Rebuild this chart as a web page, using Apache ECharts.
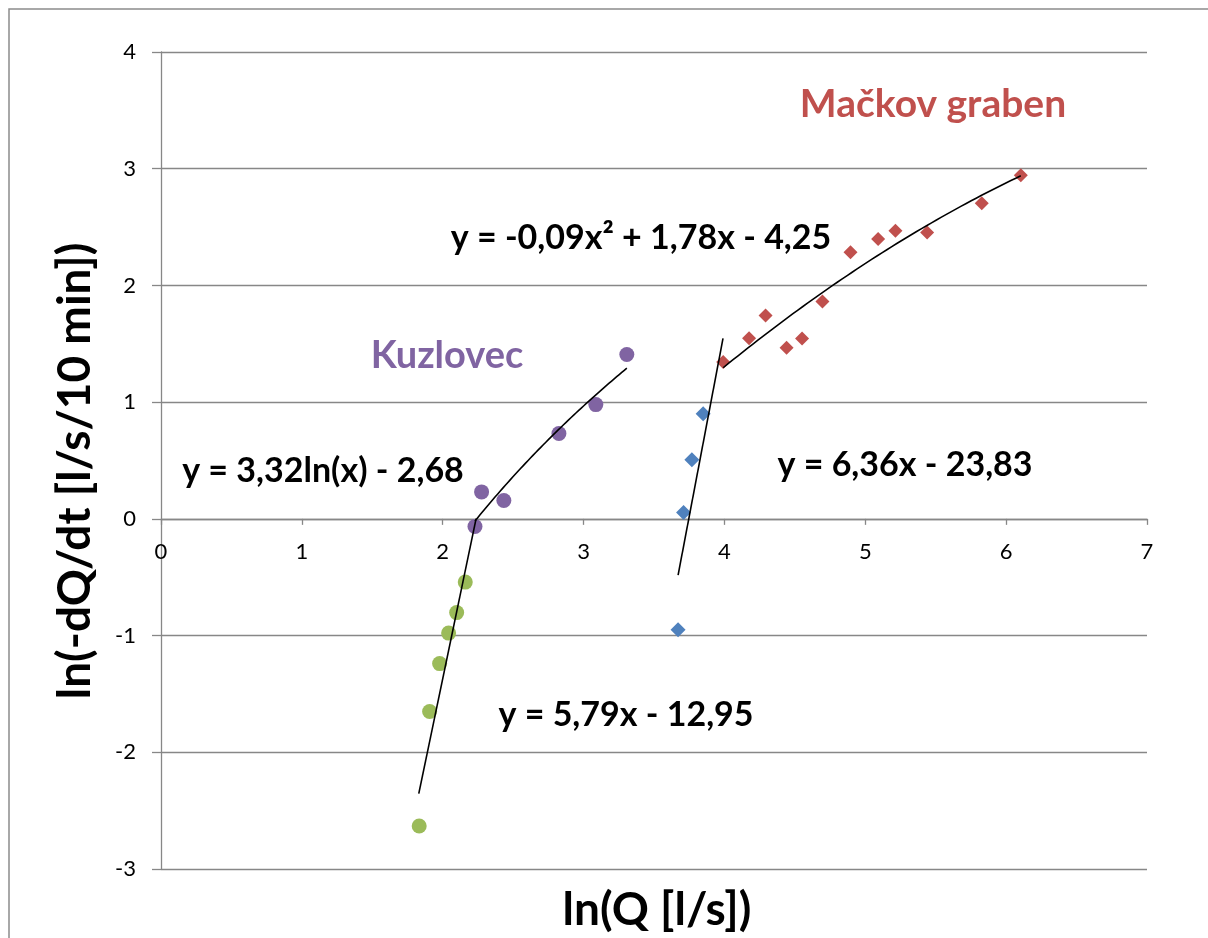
<!DOCTYPE html>
<html>
<head>
<meta charset="utf-8">
<script src="https://cdn.jsdelivr.net/npm/echarts@6/dist/echarts.min.js"></script>
<style>
  html, body { margin: 0; padding: 0; background: #fff; }
  #chart { width: 1208px; height: 938px; }
</style>
</head>
<body>
<div id="chart"></div>
<script>
// ln(Q) against ln(-dQ/dt) for the two recession branches of each spring
const kuzlovecSteep = [[1.833, -2.631], [1.907, -1.651], [1.978, -1.240], [2.042, -0.979], [2.099, -0.803], [2.160, -0.542]];
const kuzlovecFlat = [[2.229, -0.066], [2.276, 0.231], [2.434, 0.157], [2.825, 0.731], [3.087, 0.979], [3.307, 1.408]];
const mackovSteep = [[3.671, -0.951], [3.710, 0.054], [3.769, 0.506], [3.849, 0.900]];
const mackovFlat = [[3.991, 1.345], [4.175, 1.548], [4.292, 1.742], [4.441, 1.465], [4.551, 1.545], [4.696, 1.862],
                    [4.895, 2.285], [5.091, 2.397], [5.214, 2.468], [5.439, 2.453], [5.827, 2.705], [6.104, 2.945]];

// Trend coefficients printed next to the curves
const kuzlovecLinear = { slope: 5.79, intercept: -12.95 };
const mackovLinear = { slope: 6.36, intercept: -23.83 };
const kuzlovecLog = { a: 3.32, b: -2.68 };

// x extent of each trend curve
const kuzlovecLinearSpan = [1.83, 2.237];
const mackovLinearSpan = [3.671, 3.99];
const kuzlovecLogSpan = [2.229, 3.307];
const mackovPolySpan = [3.991, 6.104];

// Axis ranges
const xRange = [0, 7];
const yRange = [-3, 4];

// Texts
const mackovName = 'Mačkov graben';
const kuzlovecName = 'Kuzlovec';
const eqPoly = 'y = -0,09x² + 1,78x - 4,25';
const eqLog = 'y = 3,32ln(x) - 2,68';
const eqMackovLinear = 'y = 6,36x - 23,83';
const eqKuzlovecLinear = 'y = 5,79x - 12,95';
const xTitle = 'ln(Q [l/s])';
const yTitle = 'ln(-dQ/dt [l/s/10 min])';

// Least-squares quadratic through a set of points (y = a x^2 + b x + c)
function quadFit(pts) {
  let s0 = 0, s1 = 0, s2 = 0, s3 = 0, s4 = 0, t0 = 0, t1 = 0, t2 = 0;
  pts.forEach(([x, y]) => {
    s0 += 1; s1 += x; s2 += x * x; s3 += x * x * x; s4 += x * x * x * x;
    t0 += y; t1 += x * y; t2 += x * x * y;
  });
  const M = [[s4, s3, s2, t2], [s3, s2, s1, t1], [s2, s1, s0, t0]];
  for (let i = 0; i < 3; i++) {
    for (let k = i + 1; k < 3; k++) {
      const f = M[k][i] / M[i][i];
      for (let j = i; j < 4; j++) M[k][j] -= f * M[i][j];
    }
  }
  const r = [0, 0, 0];
  for (let i = 2; i >= 0; i--) {
    let s = M[i][3];
    for (let j = i + 1; j < 3; j++) s -= M[i][j] * r[j];
    r[i] = s / M[i][i];
  }
  return { a: r[0], b: r[1], c: r[2] };
}

function sampleCurve(fn, span, n) {
  const out = [];
  for (let i = 0; i <= n; i++) {
    const x = span[0] + (span[1] - span[0]) * i / n;
    out.push([x, fn(x)]);
  }
  return out;
}

const poly = quadFit(mackovFlat);
const polyCurve = sampleCurve(x => poly.a * x * x + poly.b * x + poly.c, mackovPolySpan, 60);
const logCurve = sampleCurve(x => kuzlovecLog.a * Math.log(x) + kuzlovecLog.b, kuzlovecLogSpan, 60);
const kuzLine = kuzlovecLinearSpan.map(x => [x, kuzlovecLinear.slope * x + kuzlovecLinear.intercept]);
const macLine = mackovLinearSpan.map(x => [x, mackovLinear.slope * x + mackovLinear.intercept]);

const FONT = 'Lato';
const GRID_GREY = '#878787';

// Plot box
const GRID = { left: 161, top: 52, right: 61, bottom: 69 };
const plotHeight = 938 - GRID.top - GRID.bottom;
// The x axis crosses the y axis at y = 0
const xAxisLift = -plotHeight * (0 - yRange[0]) / (yRange[1] - yRange[0]);

function scatter(name, data, symbol, size, color) {
  return {
    name, type: 'scatter', data, symbol, symbolSize: size,
    itemStyle: { color, opacity: 1 }, z: 2, silent: true
  };
}
function trend(name, data) {
  return {
    name, type: 'line', data, showSymbol: false, smooth: false,
    lineStyle: { color: '#000', width: 1.6 }, z: 3, silent: true
  };
}
function label(text, x, y, size, color, rotation) {
  return {
    type: 'text', x, y, rotation: rotation || 0,
    style: {
      text, fill: color, font: `bold ${size}px ${FONT}`,
      textAlign: 'center', textVerticalAlign: 'middle'
    }
  };
}

const chart = echarts.init(document.getElementById('chart'), null, { renderer: 'canvas' });
chart.setOption({
  animation: false,
  backgroundColor: '#fff',
  grid: Object.assign({ containLabel: false }, GRID),
  xAxis: {
    type: 'value', min: xRange[0], max: xRange[1], interval: 1,
    position: 'bottom', offset: xAxisLift,
    axisLine: { show: true, onZero: false, lineStyle: { color: GRID_GREY, width: 1.3 } },
    axisTick: { show: true, length: 6, lineStyle: { color: GRID_GREY, width: 1.3 } },
    axisLabel: { margin: 22, fontSize: 22, color: '#000', fontFamily: FONT },
    splitLine: { show: false }
  },
  yAxis: {
    type: 'value', min: yRange[0], max: yRange[1], interval: 1,
    axisLine: { show: true, onZero: false, lineStyle: { color: GRID_GREY, width: 1.3 } },
    axisTick: { show: true, length: 9, lineStyle: { color: GRID_GREY, width: 1.3 } },
    axisLabel: { margin: 25, fontSize: 22, color: '#000', fontFamily: FONT },
    splitLine: { show: true, lineStyle: { color: GRID_GREY, width: 1.3 } }
  },
  series: [
    scatter('Kuzlovec steep', kuzlovecSteep, 'circle', 15, '#9BBB59'),
    scatter('Kuzlovec', kuzlovecFlat, 'circle', 15, '#8064A2'),
    scatter('Mačkov graben steep', mackovSteep, 'diamond', 15, '#4F81BD'),
    scatter('Mačkov graben', mackovFlat, 'diamond', 14, '#C0504D'),
    trend('Kuzlovec linear', kuzLine),
    trend('Kuzlovec log', logCurve),
    trend('Mačkov graben linear', macLine),
    trend('Mačkov graben poly', polyCurve)
  ],
  graphic: [
    {
      type: 'rect', shape: { x: 9, y: 9, width: 1400, height: 1100 },
      style: { fill: null, stroke: '#8c8c8c', lineWidth: 1.5 }, silent: true
    },
    label(mackovName, 933, 104, 39, '#C0504D'),
    label(kuzlovecName, 447, 356, 38, '#8064A2'),
    label(eqPoly, 641, 238, 34, '#000'),
    label(eqLog, 323, 471, 34, '#000'),
    label(eqMackovLinear, 905, 465, 34, '#000'),
    label(eqKuzlovecLinear, 626, 715, 34, '#000'),
    label(xTitle, 657, 910, 46, '#000'),
    label(yTitle, 75, 471, 46, '#000', Math.PI / 2)
  ]
});
</script>
</body>
</html>
